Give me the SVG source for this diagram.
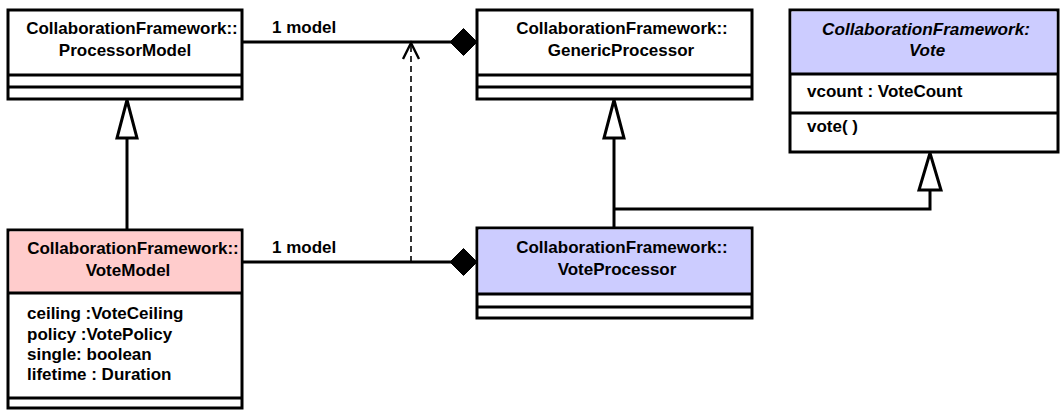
<svg xmlns="http://www.w3.org/2000/svg" width="1061" height="411" viewBox="0 0 1061 411">
<style>
  .box { fill: #ffffff; stroke: #000; stroke-width: 3; }
  .sep { stroke: #000; stroke-width: 3; }
  .t { font-family: "Liberation Sans", Arial, sans-serif; font-size: 17px; font-weight: bold; fill: #000; }
  .c { text-anchor: middle; }
  .it { font-style: italic; }
  .ln { fill: none; stroke: #000; stroke-width: 3; }
  .tri { fill: #ffffff; stroke: #000; stroke-width: 3; stroke-linejoin: miter; }
  .dia { fill: #000; stroke: #000; stroke-width: 1; }
  .dash { fill: none; stroke: #000; stroke-width: 1.6; stroke-dasharray: 6 4; }
</style>
<rect width="1061" height="411" fill="#ffffff"/>

<g id="connectors">
  <!-- VoteModel -> ProcessorModel generalization -->
  <line class="ln" x1="127" y1="138" x2="127" y2="230"/>
  <polygon class="tri" points="127,100 117,138 137,138"/>
  <!-- VoteProcessor -> GenericProcessor generalization -->
  <line class="ln" x1="614" y1="138" x2="614" y2="228"/>
  <polygon class="tri" points="614,100 604,138 624,138"/>
  <!-- VoteProcessor -> Vote generalization -->
  <polyline class="ln" points="614,209 930,209 930,190"/>
  <polygon class="tri" points="930,153 919,190 941,190"/>
  <!-- top association -->
  <line class="ln" x1="242" y1="42" x2="451" y2="42"/>
  <polygon class="dia" points="450,42 463.5,28.5 477,42 463.5,55.5"/>
  <text class="t" x="272" y="33">1 model</text>
  <!-- bottom association -->
  <line class="ln" x1="242" y1="262" x2="451" y2="262"/>
  <polygon class="dia" points="450,262 463.5,248.5 477,262 463.5,275.5"/>
  <text class="t" x="272" y="253">1 model</text>
  <!-- dependency -->
  <line class="dash" x1="411" y1="262" x2="411" y2="45"/>
  <polyline fill="none" stroke="#000" stroke-width="2.4" points="403,59 411,43 419,59"/>
</g>

<g id="ProcessorModel">
  <rect class="box" x="8" y="10" width="234" height="89"/>
  <line class="sep" x1="8" y1="75" x2="242" y2="75"/>
  <line class="sep" x1="8" y1="87" x2="242" y2="87"/>
  <text class="t c" x="132" y="34">CollaborationFramework::</text>
  <text class="t c" x="125" y="56">ProcessorModel</text>
</g>

<g id="GenericProcessor">
  <rect class="box" x="477" y="10" width="275" height="89"/>
  <line class="sep" x1="477" y1="75" x2="752" y2="75"/>
  <line class="sep" x1="477" y1="87" x2="752" y2="87"/>
  <text class="t c" x="622" y="34">CollaborationFramework::</text>
  <text class="t c" x="621" y="56">GenericProcessor</text>
</g>

<g id="Vote">
  <rect class="box" x="790" y="10" width="268" height="142"/>
  <rect x="791.5" y="11.5" width="265" height="62.5" fill="#ccccff"/>
  <line class="sep" x1="790" y1="74" x2="1058" y2="74"/>
  <line class="sep" x1="790" y1="113" x2="1058" y2="113"/>
  <text class="t it" x="822" y="35" textLength="208" lengthAdjust="spacingAndGlyphs">CollaborationFramework:</text>
  <text class="t it c" x="927" y="56">Vote</text>
  <text class="t" x="807" y="97">vcount : VoteCount</text>
  <text class="t" x="807" y="132">vote( )</text>
</g>

<g id="VoteModel">
  <rect class="box" x="8" y="230" width="234" height="178"/>
  <rect x="9.5" y="231.5" width="231" height="61.5" fill="#ffcccc"/>
  <line class="sep" x1="8" y1="293" x2="242" y2="293"/>
  <line class="sep" x1="8" y1="398" x2="242" y2="398"/>
  <text class="t c" x="133" y="254">CollaborationFramework::</text>
  <text class="t c" x="128" y="276">VoteModel</text>
  <text class="t" x="27" y="319">ceiling :VoteCeiling</text>
  <text class="t" x="27" y="340">policy :VotePolicy</text>
  <text class="t" x="27" y="360">single: boolean</text>
  <text class="t" x="27" y="380">lifetime : Duration</text>
</g>

<g id="VoteProcessor">
  <rect class="box" x="477" y="228" width="275" height="90"/>
  <rect x="478.5" y="229.5" width="272" height="64" fill="#ccccff"/>
  <line class="sep" x1="477" y1="294" x2="752" y2="294"/>
  <line class="sep" x1="477" y1="307" x2="752" y2="307"/>
  <text class="t c" x="622" y="253">CollaborationFramework::</text>
  <text class="t c" x="617" y="275">VoteProcessor</text>
</g>
</svg>
